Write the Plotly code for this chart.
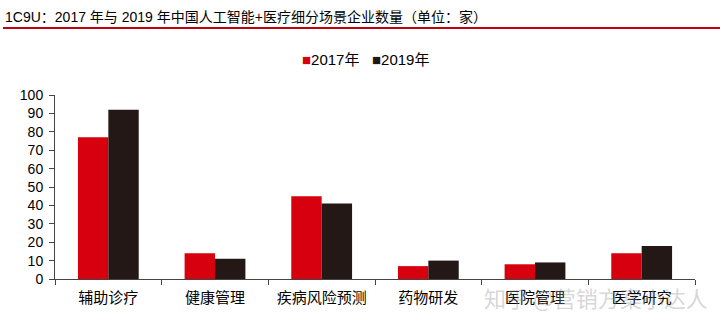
import plotly.graph_objects as go

# Sub-scenarios of AI + healthcare and company counts per year
categories = ["辅助诊疗", "健康管理", "疾病风险预测", "药物研发", "医院管理", "医学研究"]
counts_2017 = [77, 14, 45, 7, 8, 14]
counts_2019 = [92, 11, 41, 10, 9, 18]
year_labels = ["2017年", "2019年"]
y_ticks = [0, 10, 20, 30, 40, 50, 60, 70, 80, 90, 100]

RED = "#D7000F"
DARK = "#231815"
FONT = "Liberation Sans, Arial, Noto Sans CJK SC, sans-serif"

fig = go.Figure()
fig.add_trace(go.Bar(x=categories, y=counts_2017, name=year_labels[0],
                     marker=dict(color=RED, line=dict(width=0))))
fig.add_trace(go.Bar(x=categories, y=counts_2019, name=year_labels[1],
                     marker=dict(color=DARK, line=dict(width=0))))

fig.update_layout(
    width=720, height=324,
    margin=dict(l=55, r=25, t=95, b=45),
    paper_bgcolor="white", plot_bgcolor="white",
    barmode="group", bargap=0.43, bargroupgap=0,
    font=dict(family=FONT, size=14, color="#000000"),
    title=dict(
        text="1C9U：2017 年与 2019 年中国人工智能+医疗细分场景企业数量（单位：家）",
        x=0.007, xanchor="left", xref="container",
        y=1 - 17 / 324, yanchor="middle", yref="container",
        font=dict(family=FONT, size=14, color="#000000"),
    ),
    showlegend=False,
)

fig.update_xaxes(
    type="category", showline=True, linecolor="#444444", linewidth=1,
    ticks="outside", tickson="boundaries", ticklen=5, tickcolor="#444444",
    showgrid=False, zeroline=False, ticklabelstandoff=5,
    tickfont=dict(family=FONT, size=15, color="#000000"),
)
fig.update_yaxes(
    range=[0, 100], tickvals=y_ticks, showline=True, linecolor="#444444",
    linewidth=1, ticks="outside", ticklen=5, tickcolor="#444444",
    showgrid=False, zeroline=False, ticklabelstandoff=3,
    tickfont=dict(family=FONT, size=14, color="#000000"),
)

# Compact legend: a coloured square right before each year label
for label, color, x_left in [(year_labels[0], RED, (300 - 55) / 640),
                             (year_labels[1], DARK, (370 - 55) / 640)]:
    fig.add_annotation(
        text=f"<span style='color:{color}'>■</span>{label}",
        xref="paper", yref="paper", x=x_left, y=1 + (95 - 60) / 184,
        xanchor="left", yanchor="middle", showarrow=False,
        font=dict(family=FONT, size=15, color="#000000"),
    )

# Red rule under the title
fig.add_shape(type="line", xref="paper", yref="paper",
              x0=-52 / 640, x1=665 / 640, y0=(279 - 28) / 184, y1=(279 - 28) / 184,
              line=dict(color="#C00010", width=2))

# Source watermark
fig.add_annotation(text="知乎 @营销方案小达人", xref="paper", yref="paper",
                   x=(596 - 55) / 640, y=(279 - 297) / 184,
                   xanchor="center", yanchor="middle", showarrow=False,
                   font=dict(family="Noto Sans CJK SC", size=22,
                             color="rgba(150,150,150,0.4)"))

fig.write_html("out.html")
